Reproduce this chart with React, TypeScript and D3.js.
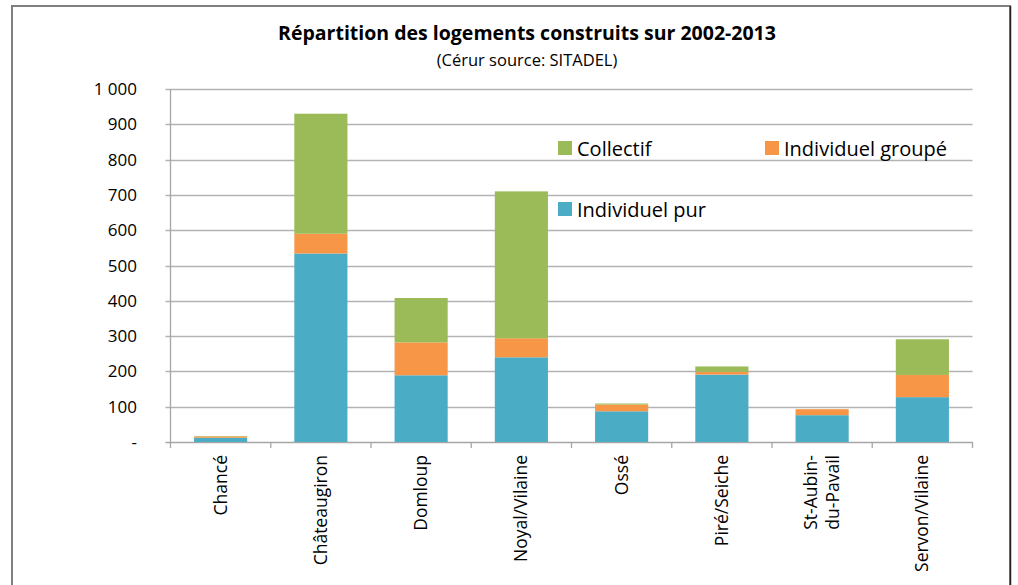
import React from "react";
import * as d3 from "d3";

const categories = ["Chancé", "Châteaugiron", "Domloup", "Noyal/Vilaine", "Ossé", "Piré/Seiche", "St-Aubin-\ndu-Pavail", "Servon/Vilaine"];
const individuelPur = [12, 534, 189, 240, 87, 191, 76, 127];
const individuelGroupe = [4, 56, 93, 54, 19, 8, 17, 63];
const collectif = [1, 340, 126, 416, 3, 15, 0, 101];
const yTicks = [0, 100, 200, 300, 400, 500, 600, 700, 800, 900, 1000];
const seriesNames = ["Individuel pur", "Individuel groupé", "Collectif"];
const seriesColors = ["#4bacc6", "#f79646", "#9bbb59"];

const W = 1018, H = 585;
const left = 170.5, right = 972.5, top = 89, bottom = 442;

export default function App() {
  const x = d3.scaleBand<string>().domain(categories).range([left, right]).paddingInner(0.47).paddingOuter(0.235);
  const xCat = d3.scaleBand<string>().domain(categories).range([left, right]);
  const y = d3.scaleLinear().domain([0, 1000]).range([bottom, top]);
  const rows = categories.map((c, i) => ({ cat: c, "Individuel pur": individuelPur[i], "Individuel groupé": individuelGroupe[i], "Collectif": collectif[i] }));
  const stack = d3.stack<any>().keys(seriesNames)(rows);
  const fmt = (v: number) => (v === 0 ? "-" : v >= 1000 ? "1 000" : String(v));
  const font = "'Open Sans', 'DejaVu Sans', sans-serif";
  const legend = [
    { name: "Collectif", color: seriesColors[2], x: 558, y: 148 },
    { name: "Individuel groupé", color: seriesColors[1], x: 765, y: 148 },
    { name: "Individuel pur", color: seriesColors[0], x: 558, y: 209 },
  ];
  return (
    <svg width={W} height={H} style={{ position: "absolute", left: 0, top: 0, background: "#fff" }} fontFamily={font}>
      <rect x={12} y={6} width={998} height={600} fill="#fff" stroke="#7f7f7f" strokeWidth={2} />
      <line x1={1010.5} x2={1010.5} y1={6} y2={H} stroke="#222" strokeWidth={1.5} />
      <text x={527} y={40} textAnchor="middle" fontSize={19.5} fontWeight="bold" fill="#000">Répartition des logements construits sur 2002-2013</text>
      <text x={527} y={66} textAnchor="middle" fontSize={16.5} fill="#000">(Cérur source: SITADEL)</text>
      {yTicks.map((t) => (
        <g key={t}>
          <line x1={left - 5} x2={right} y1={Math.round(y(t)) + 0.5} y2={Math.round(y(t)) + 0.5} stroke={t === 0 ? "#a6a6a6" : "#b3b3b3"} strokeWidth={1.3} />
          <text x={137} y={y(t) + 6} textAnchor="end" fontSize={17} fill="#000">{fmt(t)}</text>
        </g>
      ))}
      <line x1={left} x2={left} y1={top} y2={bottom + 6} stroke="#a6a6a6" strokeWidth={1.3} />
      {categories.map((c, i) => (
        <line key={"t" + i} x1={(xCat(c) as number) + xCat.bandwidth()} x2={(xCat(c) as number) + xCat.bandwidth()} y1={bottom} y2={bottom + 6} stroke="#a6a6a6" strokeWidth={1.3} />
      ))}
      {stack.map((s, si) => (
        <g key={si} fill={seriesColors[si]}>
          {s.map((d, i) => (
            <rect key={i} x={x(categories[i])} width={x.bandwidth()} y={y(d[1])} height={Math.max(0, y(d[0]) - y(d[1]))} />
          ))}
        </g>
      ))}
      {categories.map((c, i) => {
        const lines = c.split("\n");
        const cx = (xCat(c) as number) + xCat.bandwidth() / 2;
        return (
          <text key={"l" + i} transform={`translate(${cx},455) rotate(-90)`} textAnchor="end" fontSize={17.5} fill="#000">
            {lines.map((ln, li) => (
              <tspan key={li} x={0} dy={li === 0 ? 6 - (lines.length - 1) * 11 : 22}>{ln}</tspan>
            ))}
          </text>
        );
      })}
      {legend.map((l) => (
        <g key={l.name}>
          <rect x={l.x} y={l.y - 7} width={14} height={14} fill={l.color} />
          <text x={l.x + 19} y={l.y + 7.5} fontSize={20} fill="#000">{l.name}</text>
        </g>
      ))}
    </svg>
  );
}
